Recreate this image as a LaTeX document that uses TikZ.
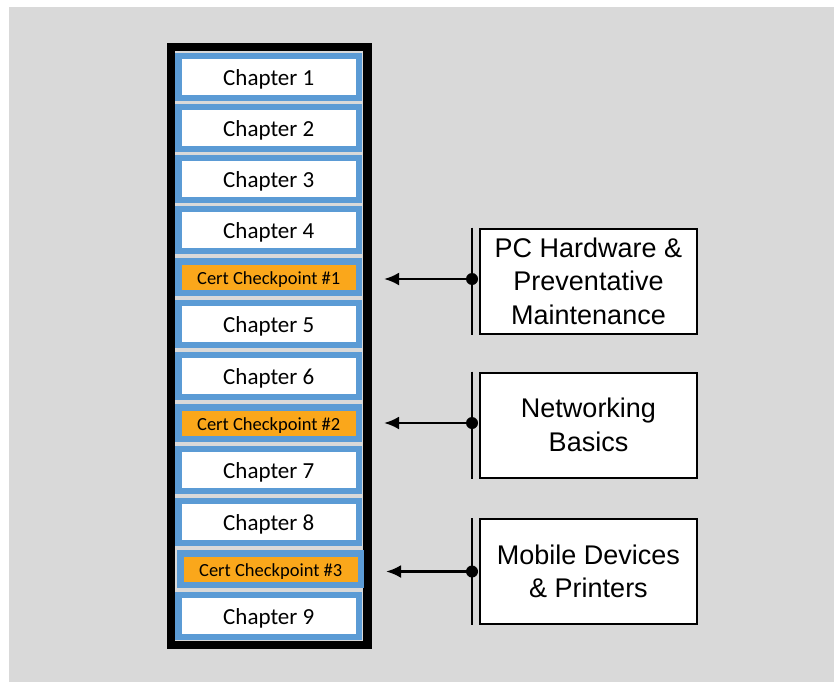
\documentclass[tikz,border=0pt]{standalone}
\usepackage{fontspec}
\usetikzlibrary{arrows.meta}

\newfontfamily\chapfam{Carlito}
\newfontfamily\topicfam{Liberation Sans}
\newcommand\chapfont{\chapfam\fontsize{23}{27}\selectfont}
\newcommand\certfont{\chapfam\fontsize{18.5}{22}\selectfont}
\newcommand\topicfont{\topicfam\fontsize{27}{33.5}\selectfont}

\definecolor{bggray}{RGB}{217,217,217}
\definecolor{chapblue}{RGB}{91,155,213}
\definecolor{certorange}{RGB}{250,167,27}

\tikzset{
  chap/.style={draw=chapblue,line width=6.5pt,fill=white,minimum width=180.5pt,
    minimum height=42pt,inner sep=0pt,outer sep=0pt,text height=17pt,text depth=0pt,
    font=\chapfont},
  cert/.style={chap,fill=certorange,minimum height=31.5pt,text height=14pt,font=\certfont},
  topic/.style={draw,line width=2pt,fill=white,minimum width=217pt,minimum height=105pt,
    inner sep=0pt,outer sep=0pt,align=center,font=\topicfont},
  bar/.style={line width=2.5pt},
  dot/.style={circle,fill,inner sep=0pt,minimum size=12pt},
  pointer/.style={line width=2.8pt,-{Latex[length=15pt,width=13pt]}}
}

\begin{document}
\begin{tikzpicture}[x=1pt,y=-1pt]
\useasboundingbox (0,0) rectangle (834,682);
\fill[bggray] (9,7) rectangle (834,682);

% chapter column
\node[draw,line width=8.5pt,fill=bggray,minimum width=196.5pt,minimum height=598pt] (column) at (269.25,346) {};
\node[chap] (ch1) at (268.75,77) {Chapter 1};
\node[chap] (ch2) at (268.75,128) {Chapter 2};
\node[chap] (ch3) at (268.75,179) {Chapter 3};
\node[chap] (ch4) at (268.75,230) {Chapter 4};
\node[cert] (cp1) at (268.75,277) {Cert Checkpoint \#1};
\node[chap] (ch5) at (268.75,324) {Chapter 5};
\node[chap] (ch6) at (268.75,376) {Chapter 6};
\node[cert] (cp2) at (268.75,423) {Cert Checkpoint \#2};
\node[chap] (ch7) at (268.75,470) {Chapter 7};
\node[chap] (ch8) at (268.75,522) {Chapter 8};
\node[cert] (cp3) at (270.75,569) {Cert Checkpoint \#3};
\node[chap] (ch9) at (268.75,616) {Chapter 9};

% topics
\node[topic] (pc) at (588.5,281) {PC Hardware \&\\Preventative\\Maintenance};
\node[topic] (net) at (588.5,425) {Networking\\Basics};
\node[topic] (mob) at (588.5,571.5) {Mobile Devices\\\& Printers};

\draw[bar] ([shift={(-8,-1)}]pc.north west) -- ([shift={(-8,1)}]pc.south west);
\draw[bar] ([shift={(-8,-1)}]net.north west) -- ([shift={(-8,1)}]net.south west);
\draw[bar] ([shift={(-8,-1)}]mob.north west) -- ([shift={(-8,1)}]mob.south west);

\node[dot] (dot1) at ([xshift=-8pt,yshift=2pt]pc.west) {};
\node[dot] (dot2) at ([xshift=-8pt,yshift=2pt]net.west) {};
\node[dot] (dot3) at ([xshift=-8pt]mob.west) {};
\coordinate (tip1) at ([xshift=-88pt]dot1.center);
\coordinate (tip2) at ([xshift=-88pt]dot2.center);
\coordinate (tip3) at ([xshift=-86pt]dot3.center);
\draw[pointer] (dot1.center) -- (tip1);
\draw[pointer] (dot2.center) -- (tip2);
\draw[pointer] (dot3.center) -- (tip3);
\end{tikzpicture}
\end{document}
